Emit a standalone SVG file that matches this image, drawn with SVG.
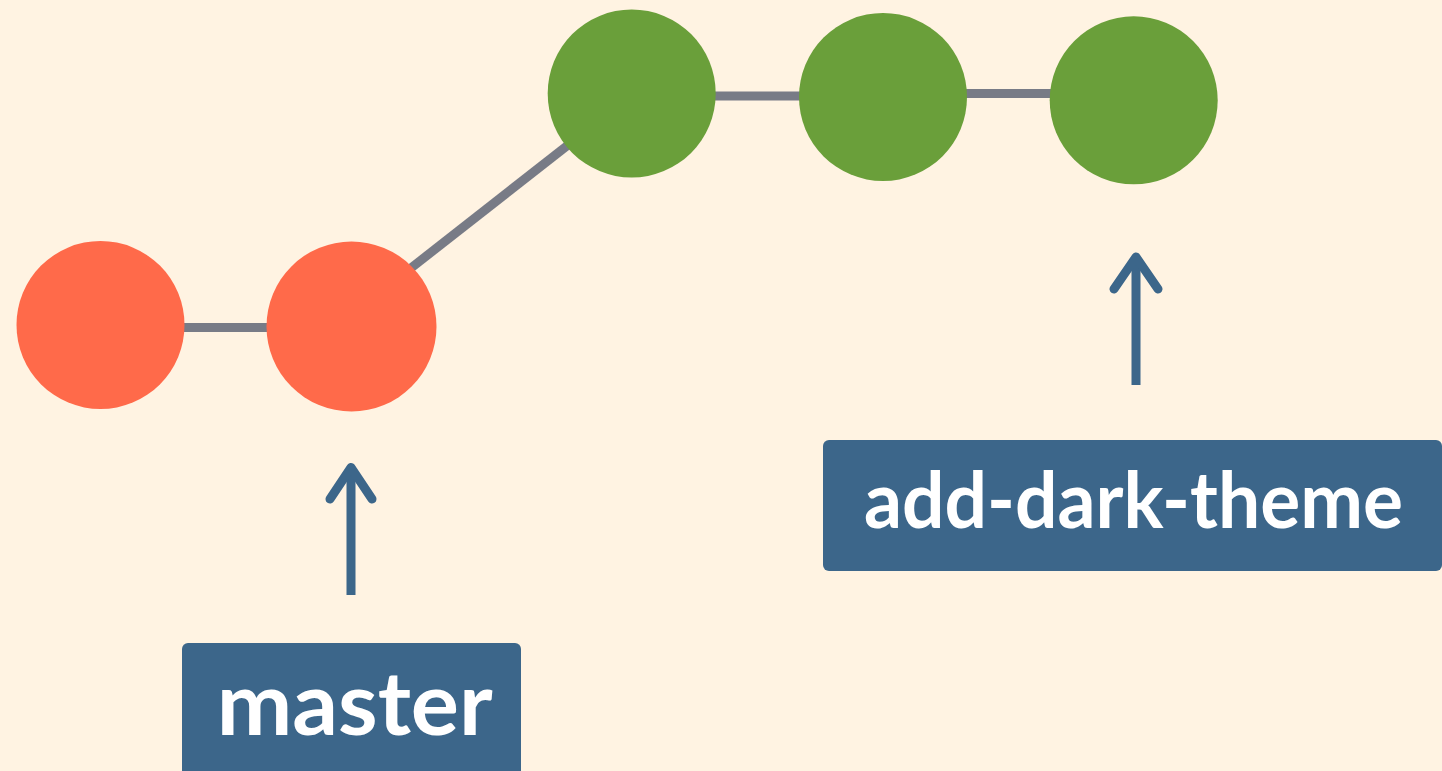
<svg xmlns="http://www.w3.org/2000/svg" width="1442" height="771" viewBox="0 0 1442 771">
  <style>
    .edge { stroke: #787b86; stroke-width: 9; fill: none; }
    .red { fill: #ff6a4a; }
    .green { fill: #6a9f3a; }
    .arrow { stroke: #3c668a; stroke-width: 9; fill: none; stroke-linecap: round; stroke-linejoin: round; }
    .shaft { stroke: #3c668a; stroke-width: 9; fill: none; stroke-linecap: butt; }
    .box { fill: #3c668a; }
    .label { fill: #ffffff; font-family: Lato, "Liberation Sans", sans-serif; font-weight: bold; text-anchor: middle; }
  </style>
  <rect x="0" y="0" width="1442" height="771" fill="#fff3e2"/>
  <g id="connectors">
    <line class="edge" x1="100" y1="327.5" x2="351" y2="327.5"/>
    <line class="edge" x1="351" y1="315" x2="632" y2="95"/>
    <line class="edge" x1="632" y1="96" x2="883" y2="96"/>
    <line class="edge" x1="883" y1="93.5" x2="1134" y2="93.5"/>
  </g>
  <g id="c1"><circle class="red" cx="100.5" cy="325" r="84"/></g>
  <g id="c2"><circle class="red" cx="351.5" cy="326.5" r="85"/></g>
  <g id="c3"><circle class="green" cx="631.7" cy="93.5" r="84"/></g>
  <g id="c4"><circle class="green" cx="883" cy="97" r="84"/></g>
  <g id="c5"><circle class="green" cx="1133.7" cy="100.3" r="84"/></g>
  <g id="arrow-master">
    <line class="shaft" x1="351" y1="595" x2="351" y2="470"/>
    <polyline class="arrow" points="330,499 351,467.5 372,499"/>
  </g>
  <g id="arrow-theme">
    <line class="shaft" x1="1136" y1="385" x2="1136" y2="260"/>
    <polyline class="arrow" points="1114,289 1136,257 1158,289"/>
  </g>
  <g id="label-master">
    <rect class="box" x="182" y="643" width="339" height="140" rx="6"/>
    <text class="label" x="354.7" y="735" font-size="88" textLength="276" lengthAdjust="spacingAndGlyphs">master</text>
  </g>
  <g id="label-theme">
    <rect class="box" x="823" y="440" width="619" height="131" rx="6"/>
    <text class="label" x="1133.5" y="528" font-size="78" textLength="539" lengthAdjust="spacingAndGlyphs">add-dark-theme</text>
  </g>
</svg>
